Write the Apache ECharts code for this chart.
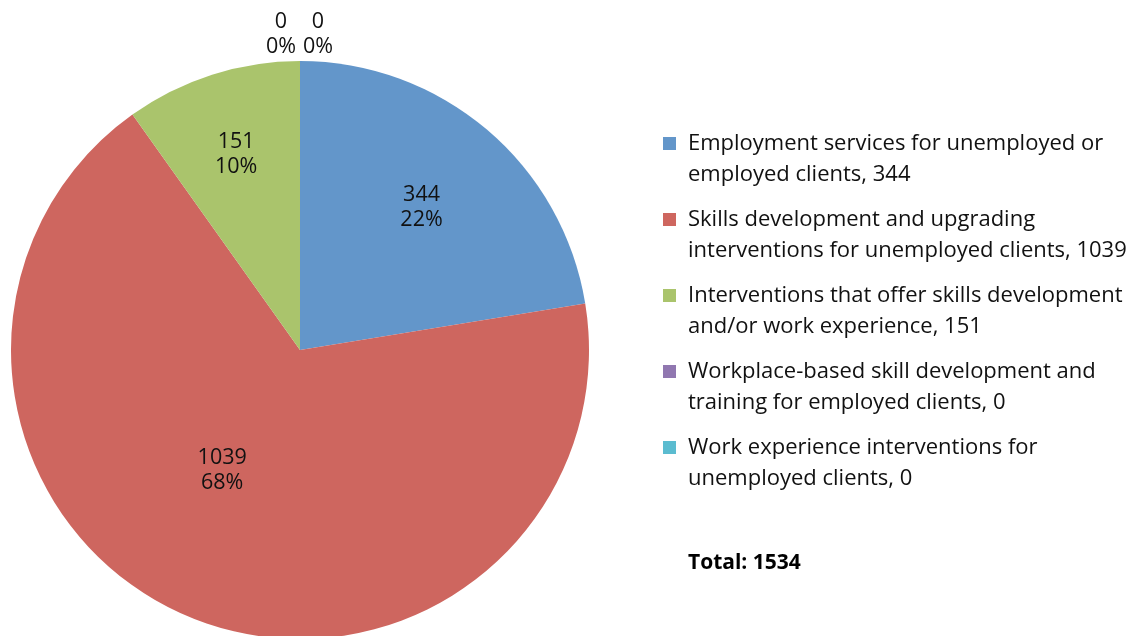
<!DOCTYPE html>
<html><head><meta charset="utf-8">
<script src="https://cdn.jsdelivr.net/npm/echarts@6/dist/echarts.min.js"></script>
<style>html,body{margin:0;padding:0;background:#fff}#c{width:1133px;height:636px}</style>
</head><body><div id="c"></div>
<script>
const categories = [
  'Employment services for unemployed or\nemployed clients',
  'Skills development and upgrading\ninterventions for unemployed clients',
  'Interventions that offer skills development\nand/or work experience',
  'Workplace-based skill development and\ntraining for employed clients',
  'Work experience interventions for\nunemployed clients'
];
const values = [344, 1039, 151, 0, 0];
const colors = ['#6396CA', '#CE665F', '#AAC46C', '#9077B0', '#5BBCD0'];
const labelOffsets = [[26, -30], [-21, -16], [-19, -55], [-19, -168], [18, -168]];

const total = values.reduce((a, b) => a + b, 0);
const FONT = 'Open Sans';
const chart = echarts.init(document.getElementById('c'), null, {renderer: 'canvas'});
chart.setOption({
  animation: false,
  backgroundColor: '#fff',
  title: {
    text: 'Total: ' + total,
    left: 683, top: 548,
    textStyle: {fontFamily: FONT, fontSize: 21, fontWeight: 'bold', color: '#000'}
  },
  legend: {
    orient: 'vertical',
    left: 658, top: 92,
    itemWidth: 13, itemHeight: 13,
    itemGap: -17,
    icon: 'rect',
    selectedMode: false,
    formatter: function (name) {
      const i = categories.indexOf(name);
      return ' \n' + name + ', ' + values[i];
    },
    textStyle: {fontFamily: FONT, fontSize: 22, lineHeight: 31, color: '#111', padding: [0, 0, 0, 7]}
  },
  series: [{
    type: 'pie',
    center: [300, 350],
    radius: [0, 289],
    startAngle: 90,
    clockwise: true,
    avoidLabelOverlap: false,
    label: {
      position: 'inside',
      fontFamily: FONT, fontSize: 21.5, lineHeight: 25, color: '#111',
      formatter: function (p) { return p.value + '\n' + Math.round(p.percent) + '%'; }
    },
    labelLine: {show: false},
    emphasis: {disabled: true},
    data: categories.map((n, i) => ({
      name: n, value: values[i],
      itemStyle: {color: colors[i]},
      label: {offset: labelOffsets[i]}
    }))
  }]
});
</script></body></html>
